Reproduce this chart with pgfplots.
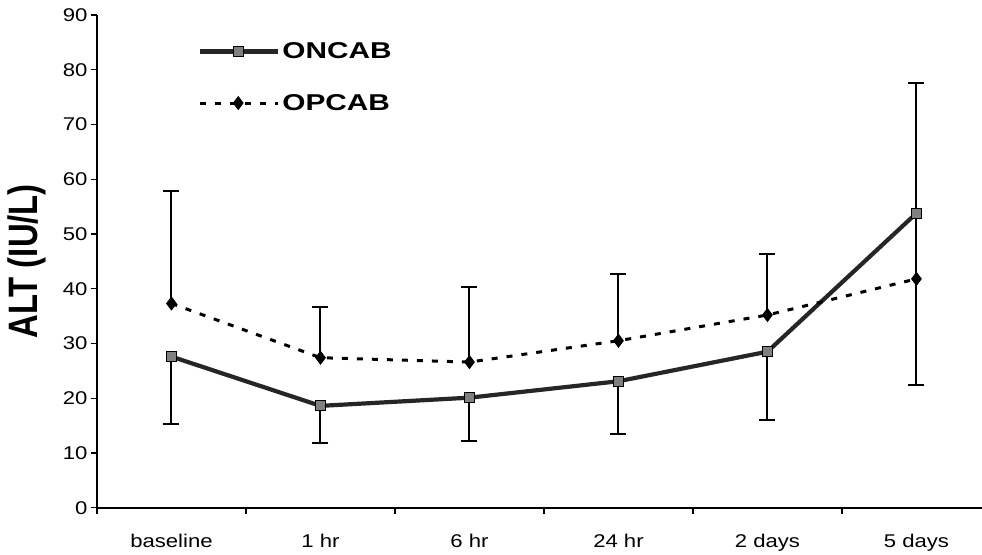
\documentclass[border=0pt]{standalone}
\usepackage{fontspec}
\setmainfont{Liberation Sans}
\newfontfamily\tickfont[FakeStretch=1.2]{Liberation Sans}
\newfontfamily\legfont[FakeStretch=1.3]{Liberation Sans}
\usepackage{graphicx}
\usepackage{pgfplots}
\pgfplotsset{compat=1.18}
\usepackage{pgfplotstable}

\pgfplotstableread{
x y e
0 27.6 12.4
1 18.6 6.7
2 20.1 8.0
3 23.1 9.6
4 28.5 12.5
5 53.8 31.4
}\oncab
\pgfplotstableread{
x y e
0 37.3 20.6
1 27.4 9.3
2 26.6 13.8
3 30.5 12.1
4 35.2 11.1
5 41.8 35.8
}\opcab

\begin{document}
\begin{tikzpicture}
\begin{axis}[
  scale only axis, width=885bp, height=492.7bp,
  xmin=-0.5, xmax=5.44, ymin=0, ymax=90,
  axis x line*=bottom, axis y line*=left,
  axis line style={line width=1.6bp, black},
  xtick={-0.5,0.5,1.5,2.5,3.5,4.5}, xticklabels={},
  extra x ticks={0,1,2,3,4,5},
  extra x tick labels={baseline,1 hr,6 hr,24 hr,2 days,5 days},
  extra x tick style={major tick length=0pt, tick label style={anchor=base, yshift=-40bp}},
  ytick={0,10,...,90},
  tick align=outside, major tick length=6bp,
  tick style={line width=1.4bp, black},
  tick label style={font=\tickfont\fontsize{18.5}{20}\selectfont},
  /pgf/number format/assume math mode=true,
  ylabel={\scalebox{1}[1.25]{\bfseries\fontsize{33}{36}\selectfont ALT (IU/L)}},
  ylabel style={at={(axis description cs:-0.079,0.5)}, anchor=center},
  legend style={draw=none, fill=none, at={(axis description cs:0.1107,0.952)}, anchor=north west,
    font=\legfont\bfseries\fontsize{23}{26}\selectfont, row sep=30bp, legend cell align=left},
  legend image code/.code={\draw[mark repeat=2,mark phase=2,#1] plot coordinates {(0bp,0bp) (38bp,0bp) (78bp,0bp)};},
  clip=false,
]
\coordinate (ll) at (rel axis cs:0,0);
\addplot[color=black!85, line width=4.2bp, mark=square*, mark size=5bp,
  mark options={solid, fill=black!50, draw=black, line width=1.2bp},
  error bars/.cd, y dir=minus, y explicit,
  error bar style={line width=2bp, solid, black},
  error mark options={rotate=90, mark size=8bp, line width=2bp, black}]
  table[x=x, y=y, y error=e] {\oncab};
\addlegendentry{ONCAB}
\addplot[color=black, line width=3bp, dash pattern=on 6bp off 9bp, mark=diamond*, mark size=6.5bp,
  mark options={solid, fill=black, draw=black, line width=0.8bp},
  error bars/.cd, y dir=plus, y explicit,
  error bar style={line width=2bp, solid, black},
  error mark options={rotate=90, mark size=8bp, line width=2bp, black}]
  table[x=x, y=y, y error=e] {\opcab};
\addlegendentry{OPCAB}
\end{axis}
\pgfresetboundingbox
\path (ll) ++(-97bp,-47.3bp) rectangle ++(982bp,555bp);
\end{tikzpicture}
\end{document}
